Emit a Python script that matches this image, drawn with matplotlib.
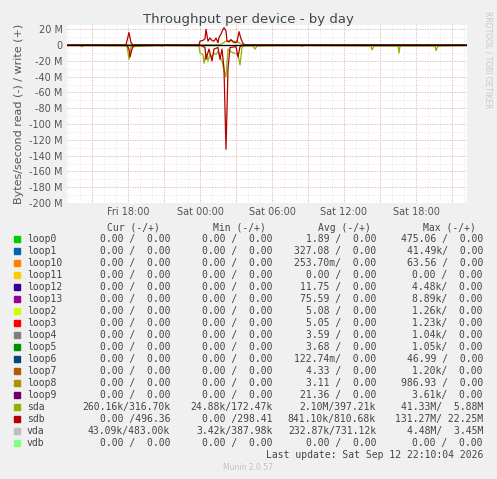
import matplotlib
matplotlib.use("Agg")
import matplotlib.pyplot as plt
import numpy as np

names = ["loop0","loop1","loop10","loop11","loop12","loop13","loop2","loop3","loop4","loop5",
         "loop6","loop7","loop8","loop9","sda","sdb","vda","vdb"]
colors = ["#00CC00","#0066B3","#FF8000","#FFCC00","#330099","#990099","#CCFF00","#FF0000","#808080",
          "#008F00","#00487D","#B35A00","#B38F00","#6B006B","#8FB300","#B30000","#BEBEBE","#80FF80"]
cur = ["0.00 /  0.00"]*14 + ["260.16k/316.70k","0.00 /496.36","43.09k/483.00k","0.00 /  0.00"]
mins = ["0.00 /  0.00"]*14 + ["24.88k/172.47k","0.00 /298.41","3.42k/387.98k","0.00 /  0.00"]
avgs = ["1.89 /  0.00","327.08 /  0.00","253.70m/  0.00","0.00 /  0.00","11.75 /  0.00","75.59 /  0.00",
        "5.08 /  0.00","5.05 /  0.00","3.59 /  0.00","3.68 /  0.00","122.74m/  0.00","4.33 /  0.00",
        "3.11 /  0.00","21.36 /  0.00","2.10M/397.21k","841.10k/810.68k","232.87k/731.12k","0.00 /  0.00"]
maxs = ["475.06 /  0.00","41.49k/  0.00","63.56 /  0.00","0.00 /  0.00","4.48k/  0.00","8.89k/  0.00",
        "1.26k/  0.00","1.23k/  0.00","1.04k/  0.00","1.05k/  0.00","46.99 /  0.00","1.20k/  0.00",
        "986.93 /  0.00","3.61k/  0.00","41.33M/  5.88M","131.27M/ 22.25M","4.48M/  3.45M","0.00 /  0.00"]

# series: pixel-read x positions converted to hours (Fri 00:00 = 0), values in MB/s
def h(px): return 18 + (np.array(px, float) - 128) / 12.0

sdb_w_px = [67,126,129,131,133,199,200,203,205,206,208,210,212,214,216,218,219,221,223,224,226,227,229,231,233,235,237,239,241,243,245,467]
sdb_w_v  = [0.3,0.3,16,3,0.3,0.3,5,6,8,20,5,9,6,5,9,3,10,14,20,22,18,5,4,7,4,3,4,17,8,2,0.3,0.3]
sdb_r_px = [67,127,129,130,132,134,200,205,206,209,212,214,218,220,222,224,226,228,230,236,238,240,243,467]
sdb_r_v  = [0,0,-5,-15,-5,0,0,-3,-18,-5,-20,-5,-3,-18,-5,-30,-132,-30,-3,-2,-15,-2,0,0]
sda_r_px = [67,80,82,84,127,129,131,160,162,164,199,200,203,204,206,208,210,212,214,216,218,220,222,224,226,228,230,234,238,240,242,244,
            253,255,257,300,302,304,371,372,374,398,399,400,435,436,438,467]
sda_r_v  = [-0.5,-0.5,-2,-0.5,-1,-18,-2,-0.5,-1.5,-0.5,-1,-10,-12,-23,-10,-20,-12,-15,-10,-12,-8,-15,-20,-32,-40,-5,-8,-10,-12,-25,-3,-1,
            -1,-5,-1,-0.5,-1.5,-0.5,-1,-6,-1,-1,-10,-1,-1,-7,-1,-0.5]
sda_w_px = [67,220,226,230,234,238,242,467]
sda_w_v  = [0.4,0.4,5,6,5,4,0.4,0.4]

fig = plt.figure(figsize=(4.97,4.79), dpi=100, facecolor="#F0F0F0")
W, Hh = 497, 479
ax = fig.add_axes([67/W, 1-203/Hh, 400/W, (203-25)/Hh])
ax.set_facecolor("white")
x0, x1 = h(67), h(467)
ax.set_xlim(x0, x1)
ax.set_ylim(-200, 25.5)

for t in np.arange(13, 47, 1):
    ax.axvline(t, color="#D8D8D8", lw=0.5, ls=(0,(1,2)), zorder=0)
for t in np.arange(15, 47, 3):
    ax.axvline(t, color="#E8A0A0", lw=0.6, ls=(0,(1,2)), zorder=0)
for v in np.arange(-200, 26, 10):
    ax.axhline(v, color="#D8D8D8", lw=0.5, ls=(0,(1,2)), zorder=0)
for v in np.arange(-200, 21, 20):
    ax.axhline(v, color="#E8A0A0", lw=0.6, ls=(0,(1,2)), zorder=0)

ax.plot(h(sda_r_px), sda_r_v, color=colors[14], lw=0.9)
ax.plot(h(sda_w_px), sda_w_v, color=colors[14], lw=0.9)
ax.plot(h(sdb_r_px), sdb_r_v, color=colors[15], lw=0.9)
ax.plot(h(sdb_w_px), sdb_w_v, color=colors[15], lw=0.9)
ax.axhline(0, color="black", lw=1)

ax.set_xticks([18, 24, 30, 36, 42])
ax.set_xticklabels(["Fri 18:00","Sat 00:00","Sat 06:00","Sat 12:00","Sat 18:00"])
yt = np.arange(-200, 21, 20)
ax.set_yticks(yt)
ax.set_yticklabels([f"{v} M" if v != 0 else "0" for v in yt])
ax.tick_params(labelsize=7, colors="#555555", length=0, pad=3)
for s in ax.spines.values():
    s.set_visible(False)
ax.set_ylabel("Bytes/second read (-) / write (+)", fontsize=8, color="#555555")
fig.text(0.5, 1-19/Hh, "Throughput per device - by day", ha="center", va="center", fontsize=9.5, color="#444444")
fig.text(488/W, 1-60/Hh, "RRDTOOL / TOBI OETIKER", rotation=270, ha="center", va="center", fontsize=5.5, color="#C8C8C8")

mono = dict(family="DejaVu Sans Mono", fontsize=7, color="#444444", va="center")
rx = [170, 273, 376, 483]
for txt, r in zip(["Cur (-/+)","Min (-/+)","Avg (-/+)","Max (-/+)"], [160, 266, 371, 476]):
    fig.text(r/W, 1-228/Hh, txt, ha="right", **mono)
for i, n in enumerate(names):
    y = 1 - (239 + 12*i)/Hh
    fig.patches.append(plt.Rectangle((14/W, y-2.5/Hh), 6/W, 6/Hh, transform=fig.transFigure, color=colors[i]))
    fig.text(27/W, y, n, ha="left", **mono)
    for col, r in zip([cur, mins, avgs, maxs], rx):
        fig.text(r/W, y, col[i], ha="right", **mono)
fig.text(483/W, 1-455/Hh, "Last update: Sat Sep 12 22:10:04 2026", ha="right", **mono)
fig.text(248/W, 1-468/Hh, "Munin 2.0.57", ha="center", va="center", fontsize=5.5, color="#C0C0C0")
fig.savefig("out.png", dpi=100, facecolor=fig.get_facecolor())
